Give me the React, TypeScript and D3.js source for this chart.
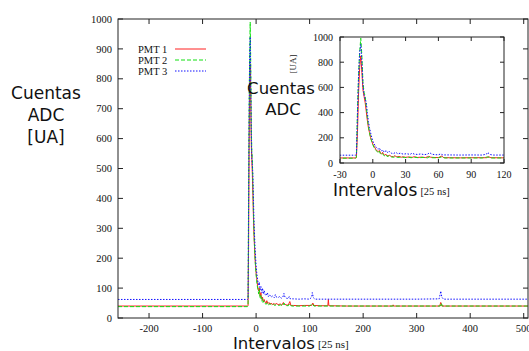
import React from "react";
import * as d3 from "d3";

// ADC counts per 25 ns interval for each photomultiplier: [interval, counts]
const pmt1: [number, number][] = [
  [-258, 40], [-16, 40], [-15, 42], [-14, 250], [-13, 560], [-12, 760], [-11, 850], [-10, 720],
  [-9, 580], [-8, 530], [-7, 480], [-6, 410], [-5, 340], [-4, 280], [-3, 240], [-2, 200],
  [-1, 175], [0, 150], [1, 135], [2, 120], [3, 105], [4, 95], [5, 90], [6, 100], [7, 80],
  [8, 72], [9, 85], [10, 66], [11, 62], [12, 70], [13, 58], [14, 55], [15, 62], [17, 52],
  [19, 50], [20, 58], [22, 48], [24, 52], [26, 46], [28, 50], [30, 45], [33, 48], [36, 45],
  [38, 50], [41, 44], [45, 47], [48, 43], [51, 52], [53, 46], [56, 44], [60, 43], [63, 55],
  [65, 42], [70, 42], [80, 41], [90, 42], [104, 42], [106, 50], [108, 42], [120, 41],
  [134, 41], [135, 62], [136, 41], [170, 40], [255, 40], [256, 44], [257, 40], [343, 40],
  [345, 52], [347, 40], [400, 40], [508, 40],
];

const pmt2: [number, number][] = [
  [-258, 38], [-16, 38], [-15, 45], [-14, 420], [-13, 700], [-12, 880], [-11, 990], [-10, 850],
  [-9, 640], [-8, 560], [-7, 530], [-6, 450], [-5, 360], [-4, 290], [-3, 240], [-2, 200],
  [-1, 170], [0, 145], [1, 125], [2, 110], [3, 100], [4, 90], [5, 80], [6, 95], [7, 72],
  [8, 66], [9, 75], [10, 60], [11, 56], [12, 65], [13, 52], [15, 58], [17, 48], [19, 46],
  [21, 52], [23, 44], [26, 48], [29, 43], [32, 46], [35, 42], [38, 45], [42, 42], [46, 44],
  [50, 41], [52, 50], [54, 42], [60, 41], [63, 48], [66, 40], [80, 40], [100, 40], [105, 48],
  [108, 40], [200, 40], [344, 40], [346, 50], [348, 40], [508, 40],
];

const pmt3: [number, number][] = [
  [-258, 62], [-16, 62], [-15, 65], [-14, 380], [-13, 700], [-12, 880], [-11, 940], [-10, 800],
  [-9, 620], [-8, 540], [-7, 510], [-6, 480], [-5, 400], [-4, 330], [-3, 280], [-2, 240],
  [-1, 205], [0, 175], [1, 155], [2, 140], [3, 125], [4, 115], [5, 110], [6, 120], [7, 100],
  [8, 95], [9, 105], [10, 90], [11, 85], [12, 100], [13, 88], [14, 80], [15, 92], [17, 78],
  [19, 75], [21, 85], [23, 72], [25, 78], [28, 70], [31, 74], [34, 68], [36, 78], [38, 70],
  [41, 68], [44, 72], [47, 66], [50, 70], [52, 82], [54, 70], [57, 66], [60, 65], [62, 72],
  [64, 64], [70, 64], [80, 63], [90, 64], [100, 63], [104, 70], [105, 85], [107, 68],
  [110, 63], [150, 63], [200, 63], [250, 63], [300, 63], [342, 64], [344, 80], [345, 90],
  [347, 70], [350, 63], [400, 63], [508, 63],
];

const seriesNames = ["PMT 1", "PMT 2", "PMT 3"];
const seriesData = [pmt1, pmt2, pmt3];

const mainXTicks = [-200, -100, 0, 100, 200, 300, 400, 500];
const mainYTicks = [0, 100, 200, 300, 400, 500, 600, 700, 800, 900, 1000];
const insetXTicks = [-30, 0, 30, 60, 90, 120];
const insetYTicks = [0, 200, 400, 600, 800, 1000];

const styles = [
  { color: "#ff2020", dash: undefined as string | undefined },
  { color: "#10e010", dash: "4,2" },
  { color: "#1010ff", dash: "1.5,1.5" },
];

const SERIF = "'Liberation Serif', 'DejaVu Serif', serif";
const SANS = "'DejaVu Sans', sans-serif";

type Frame = { x0: number; x1: number; y0: number; y1: number };

function Axes({
  x, y, frame, xTicks, yTicks, tickLen, fontSize, xLabelY, yLabelX, clipId,
}: {
  x: d3.ScaleLinear<number, number>;
  y: d3.ScaleLinear<number, number>;
  frame: Frame;
  xTicks: number[];
  yTicks: number[];
  tickLen: number;
  fontSize: number;
  xLabelY: number;
  yLabelX: number;
  clipId: string;
}) {
  const line = d3
    .line<[number, number]>()
    .x((d) => x(d[0]))
    .y((d) => y(d[1]));
  return (
    <g>
      <clipPath id={clipId}>
        <rect x={frame.x0} y={frame.y0} width={frame.x1 - frame.x0} height={frame.y1 - frame.y0} />
      </clipPath>
      <g clipPath={`url(#${clipId})`}>
        {seriesData.map((s, i) => (
          <path
            key={i}
            d={line(s) || ""}
            fill="none"
            stroke={styles[i].color}
            strokeWidth={1}
            strokeDasharray={styles[i].dash}
          />
        ))}
      </g>
      <rect
        x={frame.x0}
        y={frame.y0}
        width={frame.x1 - frame.x0}
        height={frame.y1 - frame.y0}
        fill="none"
        stroke="#222"
        strokeWidth={1}
      />
      {xTicks.map((t) => (
        <g key={`x${t}`}>
          <line x1={x(t)} x2={x(t)} y1={frame.y1} y2={frame.y1 - tickLen} stroke="#222" />
          <line x1={x(t)} x2={x(t)} y1={frame.y0} y2={frame.y0 + tickLen} stroke="#222" />
          <text x={x(t)} y={xLabelY} textAnchor="middle" fontFamily={SERIF} fontSize={fontSize} fill="#111">
            {t}
          </text>
        </g>
      ))}
      {yTicks.map((t) => (
        <g key={`y${t}`}>
          <line x1={frame.x0} x2={frame.x0 + tickLen} y1={y(t)} y2={y(t)} stroke="#222" />
          <line x1={frame.x1} x2={frame.x1 - tickLen} y1={y(t)} y2={y(t)} stroke="#222" />
          <text
            x={yLabelX}
            y={y(t)}
            dy="0.35em"
            textAnchor="end"
            fontFamily={SERIF}
            fontSize={fontSize}
            fill="#111"
          >
            {t}
          </text>
        </g>
      ))}
    </g>
  );
}

export default function App() {
  const main: Frame = { x0: 118, x1: 528, y0: 19, y1: 318 };
  const mx = d3.scaleLinear().domain([-258, 508]).range([main.x0, main.x1]);
  const my = d3.scaleLinear().domain([0, 1000]).range([main.y1, main.y0]);

  const inset: Frame = { x0: 340, x1: 504, y0: 37, y1: 163 };
  const ix = d3.scaleLinear().domain([-30, 120]).range([inset.x0, inset.x1]);
  const iy = d3.scaleLinear().domain([0, 1000]).range([inset.y1, inset.y0]);

  return (
    <svg
      width={529}
      height={351}
      style={{ position: "absolute", left: 0, top: 0, background: "#fff" }}
    >
      <rect width={529} height={351} fill="#fff" />
      <Axes
        x={mx}
        y={my}
        frame={main}
        xTicks={mainXTicks}
        yTicks={mainYTicks}
        tickLen={5}
        fontSize={10.5}
        xLabelY={332}
        yLabelX={112}
        clipId="main-clip"
      />

      {/* legend */}
      {seriesNames.map((name, i) => (
        <g key={name}>
          <text x={138} y={53 + i * 11} fontFamily={SERIF} fontSize={10.5} fill="#111">
            {name}
          </text>
          <line
            x1={175}
            x2={206}
            y1={49 + i * 11}
            y2={49 + i * 11}
            stroke={styles[i].color}
            strokeWidth={1}
            strokeDasharray={styles[i].dash}
          />
        </g>
      ))}

      {/* main axis titles */}
      <g fontFamily={SANS} fontSize={17} fill="#111" textAnchor="middle">
        <text x={46} y={99}>Cuentas</text>
        <text x={46} y={121}>ADC</text>
        <text x={46} y={143}>[UA]</text>
      </g>
      <text x={233} y={349} fontFamily={SANS} fontSize={16.5} fill="#111">
        Intervalos
        <tspan fontFamily={SERIF} fontSize={11} dx={3} dy={-1}>[25 ns]</tspan>
      </text>

      {/* inset: zoom on the pulse */}
      <rect x={inset.x0} y={inset.y0} width={inset.x1 - inset.x0} height={inset.y1 - inset.y0} fill="#fff" />
      <Axes
        x={ix}
        y={iy}
        frame={inset}
        xTicks={insetXTicks}
        yTicks={insetYTicks}
        tickLen={4}
        fontSize={10}
        xLabelY={178}
        yLabelX={333}
        clipId="inset-clip"
      />
      <g fontFamily={SANS} fontSize={16.5} fill="#111" textAnchor="middle">
        <text x={281} y={94}>Cuentas</text>
        <text x={283} y={115}>ADC</text>
      </g>
      <text
        transform="translate(296,64) rotate(-90)"
        textAnchor="middle"
        fontFamily={SERIF}
        fontSize={9}
        fill="#222"
      >
        [UA]
      </text>
      <text x={333} y={196} fontFamily={SANS} fontSize={17} fill="#111">
        Intervalos
        <tspan fontFamily={SERIF} fontSize={10.5} dx={3} dy={-1}>[25 ns]</tspan>
      </text>
    </svg>
  );
}
